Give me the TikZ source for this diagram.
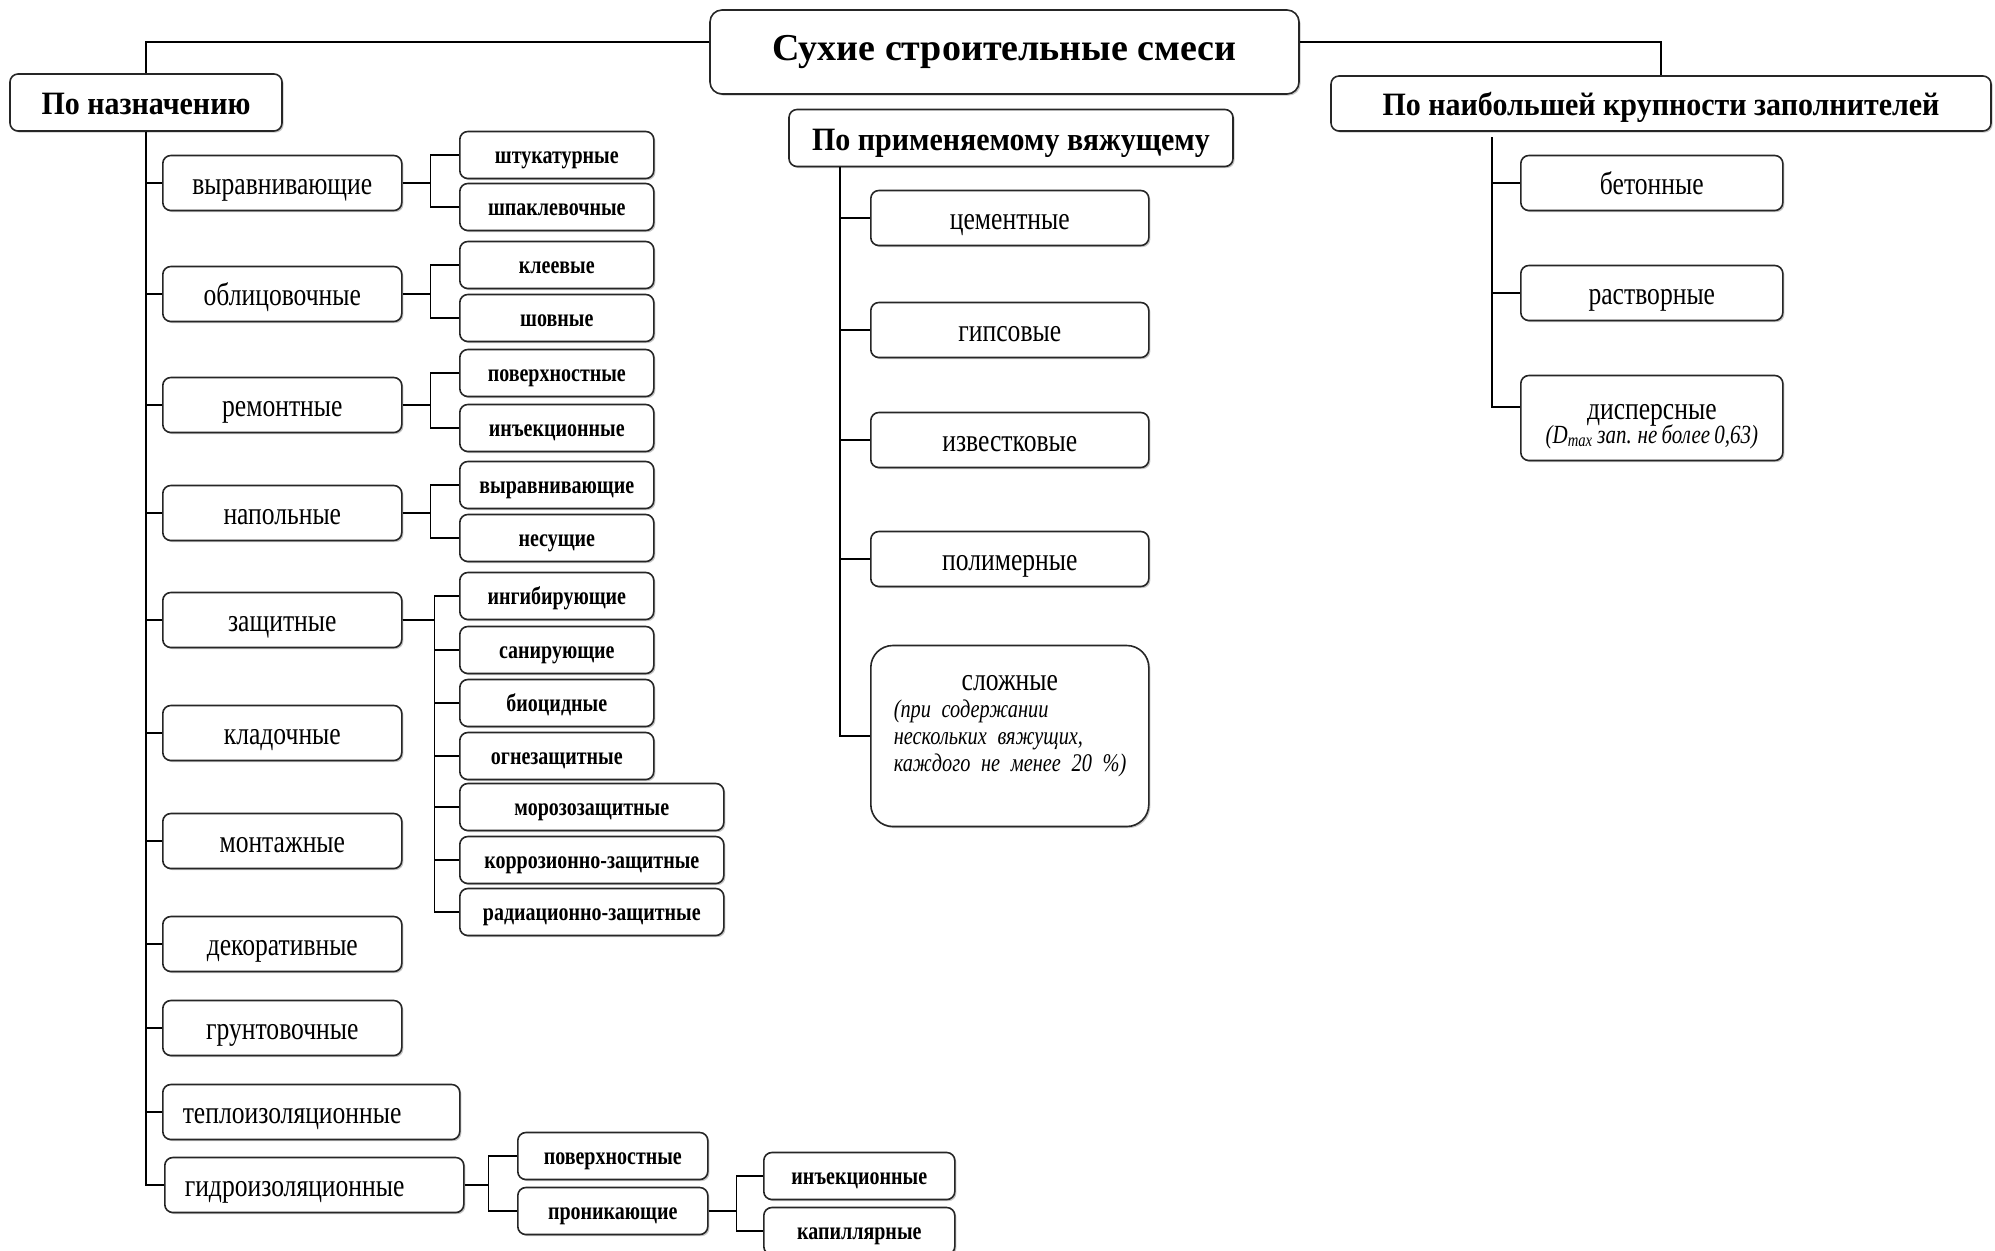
\documentclass[tikz,border=0pt]{standalone}
\usepackage{fontspec}
\setmainfont{Liberation Serif}
\newfontfamily\itemfont{Liberation Serif}[FakeStretch=0.8,WordSpace=0.8]
\newfontfamily\headfont{Liberation Serif}[FakeStretch=0.92]
\usetikzlibrary{shadows}
\newcommand{\fsz}[1]{\fontsize{#1}{#1}\selectfont}

\begin{document}
\begin{tikzpicture}[x=0.5pt,y=-0.5pt,line width=0.8pt,
  box/.style={draw=black!85,line width=0.8pt,rounded corners=4pt,fill=white,inner sep=2pt,
    drop shadow={shadow xshift=0.8pt,shadow yshift=-0.8pt,opacity=0.45}},
  head/.style={box,font=\headfont\fsz{16.3}\bfseries,minimum height=28.5pt,text height=13pt,text depth=1pt},
  itemM/.style={box,anchor=west,font=\itemfont\fsz{16},minimum width=119.5pt,minimum height=27.5pt},
  itemA/.style={itemM,text height=12.5pt,text depth=1.3pt},
  itemB/.style={box,anchor=west,font=\itemfont\fsz{12.5}\bfseries,minimum width=97pt,minimum height=23.5pt,
    text height=9.6pt,text depth=1pt}]
  \useasboundingbox (0,0) rectangle (1995,1250);

  \node[box,font=\fsz{19}\bfseries,minimum width=294.5pt,minimum height=42pt,rounded corners=6pt] (title) at (1004.5,52) {Сухие строительные смеси};
  \node[head,minimum width=136pt] (nazn) at (146,102.5) {По назначению};
  \node[head,minimum width=222pt] (vyazh) at (1011,138) {По применяемому вяжущему};
  \node[head,minimum width=330pt,minimum height=27.5pt] (krupn) at (1661,103.5) {По наибольшей крупности заполнителей};
  \draw ([yshift=5pt]title.west) -| (nazn.north);
  \draw ([yshift=5pt]title.east) -| (krupn.north);

  % по назначению
  \foreach \n/\y/\t in {vyr/183/выравнивающие,obl/294/облицовочные,rem/405/ремонтные,nap/513/напольные,
      zash/620/защитные,klad/733/кладочные,mont/841/монтажные,dek/944/декоративные,grun/1028/грунтовочные}
    \node[itemA] (\n) at (162,\y) {\t};
  \node[itemA,minimum width=148.5pt,text width=128.5pt,inner xsep=10pt,align=left] (tepl) at (162,1112) {теплоизоляционные};
  \node[itemA,minimum width=149.5pt,text width=129.5pt,inner xsep=10pt,align=left] (gidr) at (164,1185) {гидроизоляционные};
  \foreach \n in {vyr,obl,rem,nap,zash,klad,mont,dek,grun,tepl,gidr}
    \draw (nazn.south) |- (\n.west);

  \foreach \n/\y/\t in {sht/155/штукатурные,shp/207/шпаклевочные,kle/265/клеевые,shov/318/шовные,
      pov/373/поверхностные,inj/428/инъекционные,vyrp/485/выравнивающие,nes/538/несущие,
      ing/596/ингибирующие,san/650/санирующие,bio/703/биоцидные,ogn/756/огнезащитные}
    \node[itemB] (\n) at (459,\y) {\t};
  \foreach \n/\y/\t in {moroz/807/морозозащитные,korr/860/коррозионно-защитные,rad/912/радиационно-защитные}
    \node[itemB,minimum width=132pt] (\n) at (459,\y) {\t};
  \foreach \a/\b in {vyr/sht,vyr/shp,obl/kle,obl/shov,rem/pov,rem/inj,nap/vyrp,nap/nes}
    \draw (\a.east) -- ++(14pt,0) |- (\b.west);
  \foreach \b in {ing,san,bio,ogn,moroz,korr,rad}
    \draw (zash.east) -- ++(16pt,0) |- (\b.west);

  \node[itemB,minimum width=95pt] (gpov) at (517,1156) {поверхностные};
  \node[itemB,minimum width=95pt] (gpron) at (517,1211) {проникающие};
  \node[itemB,minimum width=95.5pt] (ginj) at (763,1176) {инъекционные};
  \node[itemB,minimum width=95.5pt] (gkap) at (763,1231) {капиллярные};
  \foreach \b in {gpov,gpron}
    \draw (gidr.east) -- ++(12pt,0) |- (\b.west);
  \foreach \b in {ginj,gkap}
    \draw (gpron.east) -- ++(14pt,0) |- (\b.west);

  % по вяжущему
  \coordinate (vs) at (840,167);
  \foreach \n/\y/\t in {cem/218/цементные,gips/330/гипсовые,izv/440/известковые,pol/559/полимерные}
    \node[itemA,minimum width=139pt] (\n) at (870,\y) {\t};
  \node[itemM,minimum height=90.5pt,rounded corners=11pt,text width=116pt,inner xsep=11.5pt] (slozh) at (870,736)
    {\centering сложные\par\raggedright\fontsize{12.7}{13.4}\selectfont\itshape
     \mbox{(при содержании}\\\mbox{нескольких вяжущих,}\\\mbox{каждого не менее 20~\%)}\par
     \nointerlineskip\noindent\rule{0pt}{10pt}\par};
  \foreach \n in {cem,gips,izv,pol,slozh}
    \draw (vs) |- (\n.west);

  % по крупности
  \coordinate (ks) at (1492,137);
  \node[itemA,minimum width=131pt] (bet) at (1520,183) {бетонные};
  \node[itemA,minimum width=131pt] (rast) at (1520,293) {растворные};
  \node[itemM,minimum width=131pt,minimum height=42.5pt,align=center] (disp) at (1520,418)
    {\rule{0pt}{16pt}дисперсные\\[-4pt]{\fsz{13.1}\itshape (D\textsubscript{max} зап. не более 0,63)}};
  \draw (ks) |- (bet.west);
  \draw (ks) |- (rast.west);
  \draw (ks) |- ([yshift=5.5pt]disp.west);
\end{tikzpicture}
\end{document}
